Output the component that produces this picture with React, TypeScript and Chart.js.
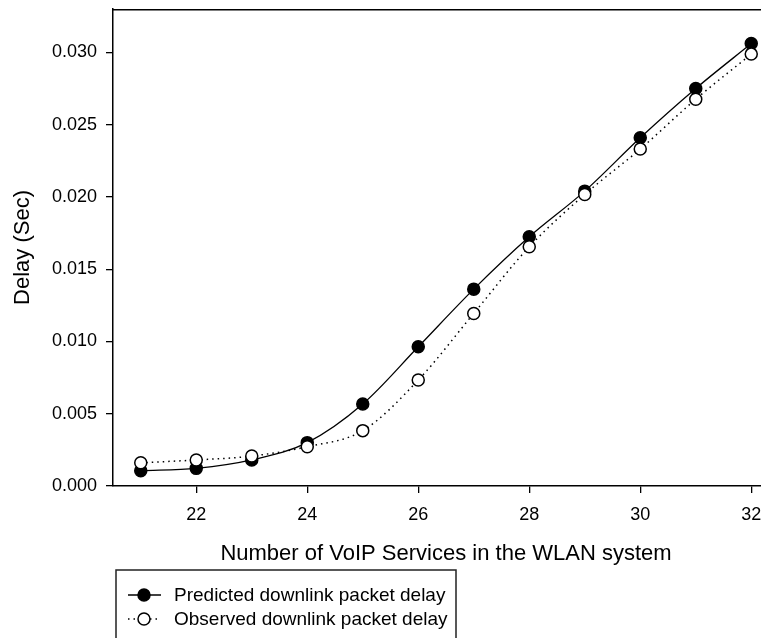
import React, { useEffect, useRef } from 'react';
import { Chart, registerables } from 'chart.js';

Chart.register(...registerables);

const services = [21, 22, 23, 24, 25, 26, 27, 28, 29, 30, 31, 32];
const predicted = [0.00106, 0.00122, 0.0018, 0.003, 0.00567, 0.00963, 0.01362, 0.01724, 0.0204, 0.02409, 0.0275, 0.03061];
const observed = [0.00161, 0.0018, 0.00207, 0.00272, 0.00383, 0.00733, 0.01194, 0.01655, 0.02017, 0.02331, 0.02676, 0.02988];
const xTicks = [22, 24, 26, 28, 30, 32];
const yTicks = [0, 0.005, 0.01, 0.015, 0.02, 0.025, 0.03];
const xTitle = 'Number of VoIP Services in the WLAN system';
const yTitle = 'Delay (Sec)';
const legendLabels = ['Predicted downlink packet delay', 'Observed downlink packet delay'];

const FONT = "'Liberation Sans', Arial, sans-serif";

const decorPlugin = {
  id: 'decor',
  afterDraw(chart: any) {
    const ctx = chart.ctx;
    const a = chart.chartArea;
    ctx.save();
    // top border
    ctx.strokeStyle = '#000';
    ctx.lineWidth = 1.5;
    ctx.beginPath();
    ctx.moveTo(a.left, a.top + 0.75);
    ctx.lineTo(chart.width, a.top + 0.75);
    ctx.stroke();

    // x title
    ctx.fillStyle = '#000';
    ctx.font = `22px ${FONT}`;
    ctx.textAlign = 'center';
    ctx.textBaseline = 'alphabetic';
    ctx.fillText(xTitle, (a.left + a.right) / 2, 552);

    // y title
    ctx.save();
    ctx.translate(20.5, (a.top + a.bottom) / 2);
    ctx.rotate(-Math.PI / 2);
    ctx.fillText(yTitle, 0, 0);
    ctx.restore();

    // legend box
    const bl = 108, bt = 562, br = 448, bb = 700;
    ctx.strokeStyle = '#222';
    ctx.lineWidth = 1.5;
    ctx.beginPath();
    ctx.moveTo(bl, bb);
    ctx.lineTo(bl, bt);
    ctx.lineTo(br, bt);
    ctx.lineTo(br, bb);
    ctx.stroke();

    const rows = [587, 611];
    const symL = 120, symR = 153, symC = 136, textX = 166;
    ctx.font = `19px ${FONT}`;
    ctx.textAlign = 'left';
    ctx.textBaseline = 'middle';
    rows.forEach((ry, i) => {
      ctx.strokeStyle = '#000';
      ctx.lineWidth = i === 0 ? 1.3 : 1.5;
      ctx.setLineDash(i === 0 ? [] : [1.5, 4]);
      ctx.beginPath();
      ctx.moveTo(symL, ry);
      ctx.lineTo(symR, ry);
      ctx.stroke();
      ctx.setLineDash([]);
      ctx.beginPath();
      ctx.arc(symC, ry, 6, 0, Math.PI * 2);
      ctx.fillStyle = i === 0 ? '#000' : '#fff';
      ctx.fill();
      ctx.lineWidth = 1.5;
      ctx.stroke();
      ctx.fillStyle = '#000';
      ctx.fillText(legendLabels[i], textX, ry + 1);
    });
    ctx.restore();
  },
};

export default function App() {
  const ref = useRef<HTMLCanvasElement | null>(null);

  useEffect(() => {
    if (!ref.current) return;
    const chart = new Chart(ref.current, {
      type: 'line',
      data: {
        datasets: [
          {
            label: legendLabels[0],
            data: services.map((x, i) => ({ x, y: predicted[i] })),
            borderColor: '#000',
            borderWidth: 1.3,
            backgroundColor: '#000',
            pointBackgroundColor: '#000',
            pointBorderColor: '#000',
            pointBorderWidth: 1.5,
            pointRadius: 6,
            cubicInterpolationMode: 'monotone',
            order: 1,
          },
          {
            label: legendLabels[1],
            data: services.map((x, i) => ({ x, y: observed[i] })),
            borderColor: '#000',
            borderWidth: 1.5,
            borderDash: [1.5, 4],
            backgroundColor: '#fff',
            pointBackgroundColor: '#fff',
            pointBorderColor: '#000',
            pointBorderWidth: 1.5,
            pointRadius: 6,
            cubicInterpolationMode: 'monotone',
            order: 0,
          },
        ],
      },
      options: {
        animation: false,
        responsive: false,
        events: [],
        layout: { autoPadding: false, padding: { top: 1, right: 19, bottom: 0, left: 0 } },
        plugins: { legend: { display: false }, tooltip: { enabled: false } },
        scales: {
          x: {
            type: 'linear',
            min: 20.5,
            max: 32.5,
            afterBuildTicks: (s: any) => {
              s.ticks = xTicks.map((v) => ({ value: v }));
            },
            afterFit: (s: any) => {
              s.height = 152;
              s.paddingLeft = 0;
              s.paddingRight = 0;
            },
            ticks: {
              color: '#000',
              font: { family: FONT, size: 18 },
              padding: 11,
              maxRotation: 0,
              autoSkip: false,
            },
            grid: { drawOnChartArea: false, tickLength: 7, color: '#000', lineWidth: 1.3 },
            border: { color: '#000', width: 1.5 },
          },
          y: {
            type: 'linear',
            min: 0,
            max: 0.033,
            afterBuildTicks: (s: any) => {
              s.ticks = yTicks.map((v) => ({ value: v }));
            },
            afterFit: (s: any) => {
              s.width = 105;
              s.paddingTop = 0;
              s.paddingBottom = 0;
            },
            ticks: {
              color: '#000',
              font: { family: FONT, size: 18 },
              padding: 9,
              callback: (v: any) => Number(v).toFixed(3),
            },
            grid: { drawOnChartArea: false, tickLength: 7, color: '#000', lineWidth: 1.3 },
            border: { color: '#000', width: 1.5 },
          },
        },
      },
      plugins: [decorPlugin],
    } as any);
    return () => chart.destroy();
  }, []);

  return (
    <div style={{ width: 761, height: 630, overflow: 'hidden', position: 'relative' }}>
      <canvas ref={ref} width={790} height={630} style={{ display: 'block', width: 790, height: 630 }} />
    </div>
  );
}
